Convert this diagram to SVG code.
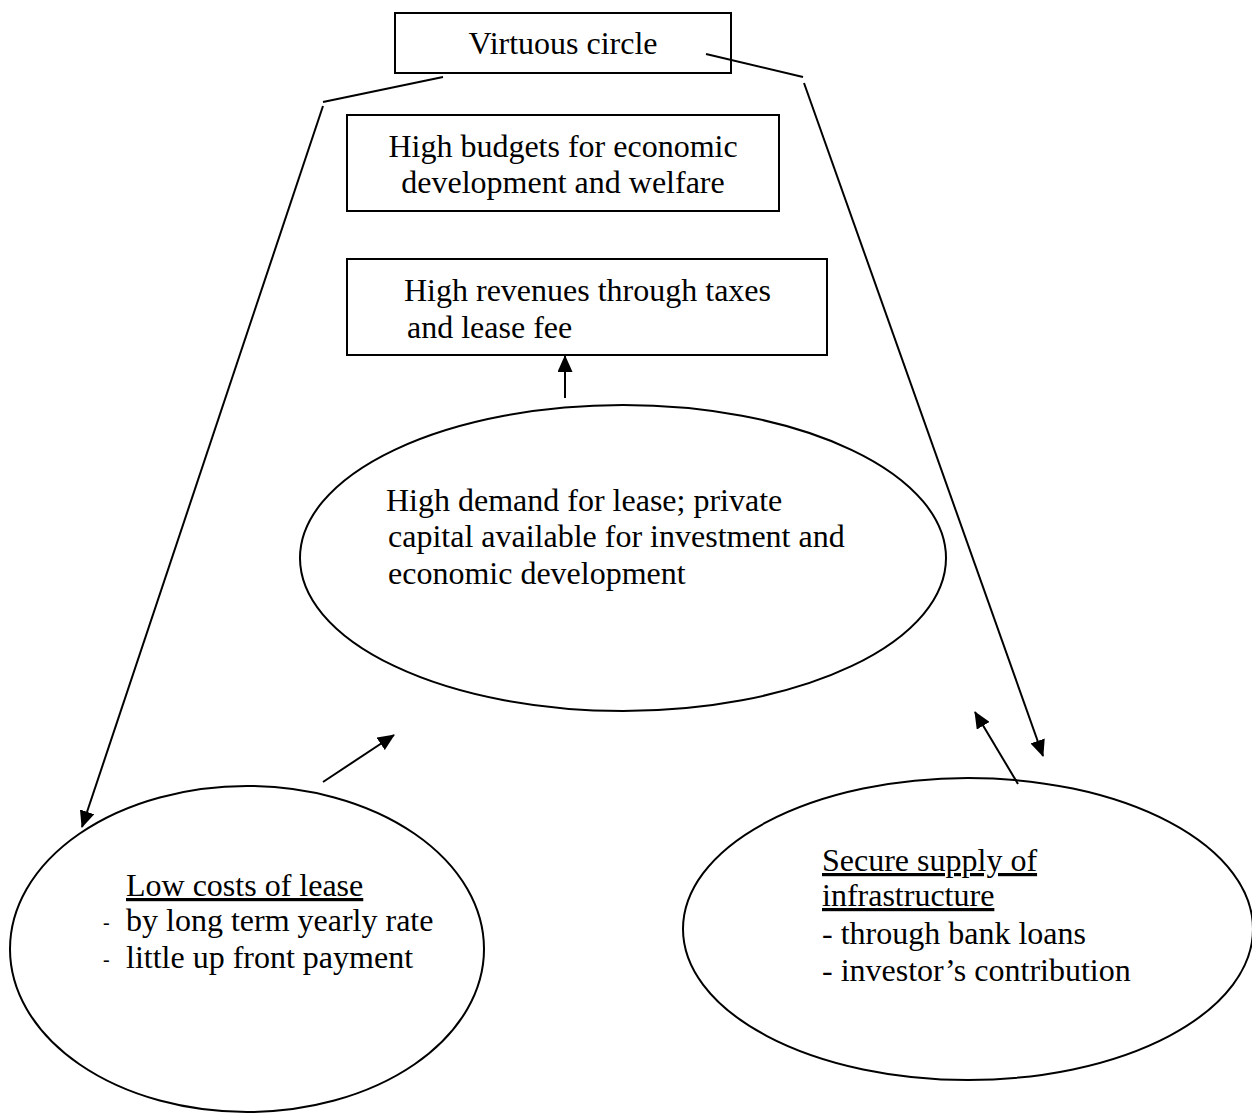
<svg xmlns="http://www.w3.org/2000/svg" width="1252" height="1115" viewBox="0 0 1252 1115">
<style>
.box{fill:#fff;stroke:#000;stroke-width:2}
.ell{fill:#fff;stroke:#000;stroke-width:2}
.t{font-family:"Liberation Serif","Times New Roman",serif;font-size:32px;fill:#000}
.m{text-anchor:middle}
.d{font-size:20px}
.ln{fill:none;stroke:#000;stroke-width:2}
</style>
<defs>
<marker id="ah" markerWidth="17" markerHeight="15" refX="16" refY="7.5" orient="auto" markerUnits="userSpaceOnUse">
<path d="M0,0 L17,7.5 L0,15 Z" fill="#000"/>
</marker>
</defs>
<g id="virtuous">
<rect class="box" x="395" y="13" width="336" height="60"/>
<text class="t m" x="563" y="54">Virtuous circle</text>
</g>
<g id="budgets">
<rect class="box" x="347" y="115" width="432" height="96"/>
<text class="t m" x="563" y="157">High budgets for economic</text>
<text class="t m" x="563" y="193">development and welfare</text>
</g>
<g id="revenues">
<rect class="box" x="347" y="259" width="480" height="96"/>
<text class="t" x="404" y="301">High revenues through taxes</text>
<text class="t" x="407" y="338">and lease fee</text>
</g>
<g id="demand">
<ellipse class="ell" cx="623" cy="558" rx="323" ry="153"/>
<text class="t" x="386" y="511">High demand for lease; private</text>
<text class="t" x="388" y="547">capital available for investment and</text>
<text class="t" x="388" y="584">economic development</text>
</g>
<g id="lowcosts">
<ellipse class="ell" cx="247" cy="949" rx="237" ry="163"/>
<text class="t" x="126" y="896" text-decoration="underline">Low costs of lease</text>
<text class="t d" x="103" y="929">-</text>
<text class="t" x="126" y="931">by long term yearly rate</text>
<text class="t d" x="103" y="966">-</text>
<text class="t" x="126" y="968">little up front payment</text>
</g>
<g id="supply">
<ellipse class="ell" cx="968" cy="929" rx="285" ry="151"/>
<text class="t" x="822" y="871" text-decoration="underline">Secure supply of</text>
<text class="t" x="822" y="906" text-decoration="underline">infrastructure</text>
<text class="t" x="822" y="944">- through bank loans</text>
<text class="t" x="822" y="981">- investor’s contribution</text>
</g>
<g id="connectors">
<line class="ln" x1="443" y1="77" x2="323" y2="102"/>
<line class="ln" x1="323" y1="106" x2="82" y2="827" marker-end="url(#ah)"/>
<line class="ln" x1="706" y1="54" x2="803" y2="77"/>
<line class="ln" x1="804" y1="83" x2="1043" y2="756" marker-end="url(#ah)"/>
<line class="ln" x1="565" y1="398" x2="565" y2="356" marker-end="url(#ah)"/>
<line class="ln" x1="323" y1="782" x2="394" y2="735" marker-end="url(#ah)"/>
<line class="ln" x1="1018" y1="784" x2="975" y2="712" marker-end="url(#ah)"/>
</g>
</svg>
